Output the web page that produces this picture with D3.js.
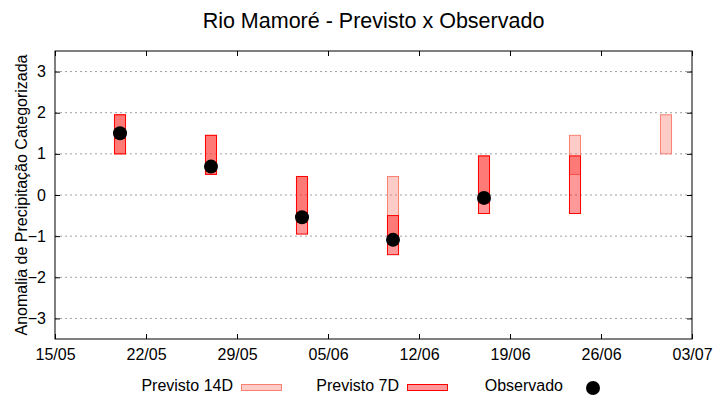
<!DOCTYPE html>
<html>
<head>
<meta charset="utf-8">
<script src="https://cdn.jsdelivr.net/npm/d3@7"></script>
<style>
  body { margin: 0; background: #fff; }
  text { font-family: "Liberation Sans", Arial, sans-serif; fill: #000; }
</style>
</head>
<body>
<div id="chart"></div>
<script>
// forecast dates (dd/mm)
var dates = ['20/05', '27/05', '03/06', '10/06', '17/06', '24/06', '01/07'];
// 14-day forecast range
var p14Low  = [1.0, 0.5, -0.6, -1.15, -0.2, 0.5, 1.0];
var p14High = [1.95, 1.45, 0.45, 0.45, 0.95, 1.45, 1.95];
// 7-day forecast range
var p7Low  = [1.0, 0.5, -0.95, -1.45, -0.45, -0.45];
var p7High = [1.95, 1.45, 0.45, -0.5, 0.95, 0.95];
// observed
var obs = [1.5, 0.69, -0.54, -1.09, -0.07];

var xTicks = ['15/05', '22/05', '29/05', '05/06', '12/06', '19/06', '26/06', '03/07'];
var yTicks = [-3, -2, -1, 0, 1, 2, 3];

var year = '2021';
var parse = d3.utcParse('%d/%m/%Y');
function toDate(s) { return parse(s + '/' + year); }

var w = 720, h = 400;
var m = {left: 55, right: 28, top: 51, bottom: 61};

var svg = d3.select('#chart').append('svg')
    .attr('width', w)
    .attr('height', h);

var x = d3.scaleUtc()
    .domain([toDate(xTicks[0]), toDate(xTicks[xTicks.length - 1])])
    .range([m.left, w - m.right]);

var y = d3.scaleLinear()
    .domain([-3.5, 3.5])
    .range([h - m.bottom, m.top]);

var dayPx = x(toDate('02/01')) - x(toDate('01/01'));
var boxW = dayPx * 0.85;

// grid
svg.append('g')
  .selectAll('line')
  .data(yTicks)
  .enter()
  .append('line')
    .attr('x1', m.left)
    .attr('x2', w - m.right)
    .attr('y1', function(d) { return y(d); })
    .attr('y2', function(d) { return y(d); })
    .attr('stroke', '#a0a0a0')
    .attr('stroke-width', 1)
    .attr('stroke-dasharray', '2,3');

// axes with inner ticks
var tl = 5;
svg.append('g')
    .attr('transform', 'translate(0,' + (h - m.bottom) + ')')
    .call(d3.axisBottom(x).tickValues(xTicks.map(toDate)).tickSize(-tl).tickPadding(10)
      .tickFormat(d3.utcFormat('%d/%m')))
    .call(function(g) { g.select('.domain').remove(); });
svg.append('g')
    .attr('transform', 'translate(0,' + m.top + ')')
    .call(d3.axisTop(x).tickValues(xTicks.map(toDate)).tickSize(-tl).tickFormat(''))
    .call(function(g) { g.select('.domain').remove(); });
svg.append('g')
    .attr('transform', 'translate(' + m.left + ',0)')
    .call(d3.axisLeft(y).tickValues(yTicks).tickSize(-tl).tickPadding(9).tickFormat(d3.format('d')))
    .call(function(g) { g.select('.domain').remove(); });
svg.append('g')
    .attr('transform', 'translate(' + (w - m.right) + ',0)')
    .call(d3.axisRight(y).tickValues(yTicks).tickSize(-tl).tickFormat(''))
    .call(function(g) { g.select('.domain').remove(); });

svg.selectAll('.tick text')
    .attr('font-family', '"Liberation Sans", Arial, sans-serif')
    .attr('font-size', 16)
    .attr('fill', '#000');
svg.selectAll('.tick line').attr('stroke', '#000');

// 14 day boxes
svg.append('g')
  .selectAll('rect')
  .data(dates)
  .enter()
  .append('rect')
    .attr('x', function(d) { return x(toDate(d)) - boxW / 2; })
    .attr('width', boxW)
    .attr('y', function(d, i) { return y(p14High[i]); })
    .attr('height', function(d, i) { return y(p14Low[i]) - y(p14High[i]); })
    .attr('fill', 'rgba(250,128,114,0.4)')
    .attr('stroke', '#fa8072')
    .attr('stroke-width', 1);

// 7 day boxes
svg.append('g')
  .selectAll('rect')
  .data(p7Low)
  .enter()
  .append('rect')
    .attr('x', function(d, i) { return x(toDate(dates[i])) - boxW / 2; })
    .attr('width', boxW)
    .attr('y', function(d, i) { return y(p7High[i]); })
    .attr('height', function(d, i) { return y(d) - y(p7High[i]); })
    .attr('fill', 'rgba(255,0,0,0.4)')
    .attr('stroke', '#ff0000')
    .attr('stroke-width', 1);

// observed
svg.append('g')
  .selectAll('circle')
  .data(obs)
  .enter()
  .append('circle')
    .attr('cx', function(d, i) { return x(toDate(dates[i])); })
    .attr('cy', function(d) { return y(d); })
    .attr('r', 7)
    .attr('fill', '#000');

// frame
svg.append('rect')
    .attr('x', m.left)
    .attr('y', m.top)
    .attr('width', w - m.left - m.right)
    .attr('height', h - m.top - m.bottom)
    .attr('fill', 'none')
    .attr('stroke', '#000')
    .attr('stroke-width', 1);

// title
svg.append('text')
    .attr('x', (m.left + w - m.right) / 2)
    .attr('y', 28)
    .attr('text-anchor', 'middle')
    .attr('font-size', 21.5)
    .text('Rio Mamoré - Previsto x Observado');

// y label
svg.append('text')
    .attr('transform', 'translate(27,' + ((m.top + h - m.bottom) / 2) + ') rotate(-90)')
    .attr('text-anchor', 'middle')
    .attr('font-size', 16)
    .text('Anomalia de Precipitação Categorizada');

// legend
var ly = 391;
var legend = svg.append('g');
legend.append('text').attr('x', 233).attr('y', ly).attr('text-anchor', 'end')
    .attr('font-size', 16).text('Previsto 14D');
legend.append('rect').attr('x', 241.5).attr('y', ly - 6.5).attr('width', 40).attr('height', 6)
    .attr('fill', 'rgba(250,128,114,0.4)').attr('stroke', '#fa8072');
legend.append('text').attr('x', 399).attr('y', ly).attr('text-anchor', 'end')
    .attr('font-size', 16).text('Previsto 7D');
legend.append('rect').attr('x', 407.5).attr('y', ly - 6.5).attr('width', 40).attr('height', 6)
    .attr('fill', 'rgba(255,0,0,0.4)').attr('stroke', '#ff0000');
legend.append('text').attr('x', 563).attr('y', ly).attr('text-anchor', 'end')
    .attr('font-size', 16).text('Observado');
legend.append('circle').attr('cx', 593).attr('cy', ly - 3).attr('r', 7).attr('fill', '#000');
</script>
</body>
</html>
